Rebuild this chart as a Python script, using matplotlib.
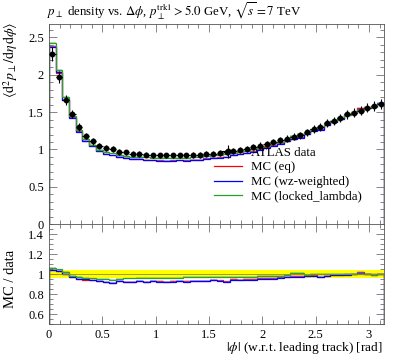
import numpy as np
import matplotlib
matplotlib.use("Agg")
import matplotlib.pyplot as plt
from matplotlib.ticker import MultipleLocator

plt.rcParams['font.family'] = ['Liberation Serif', 'DejaVu Serif']
plt.rcParams['mathtext.fontset'] = 'stix'

# 50 bins in |phi| from 0 to pi
n_bins = 50
edges = np.linspace(0, np.pi, n_bins + 1)

data_vals = [2.28, 1.97, 1.66, 1.47, 1.30, 1.18, 1.11, 1.05, 1.02, 1.01,
             0.97, 0.96, 0.945, 0.94, 0.93, 0.92, 0.92, 0.92, 0.92, 0.92,
             0.92, 0.925, 0.93, 0.94, 0.945, 0.955, 0.97, 0.98, 0.995, 1.01,
             1.03, 1.05, 1.07, 1.10, 1.12, 1.14, 1.17, 1.19, 1.23, 1.27,
             1.30, 1.35, 1.38, 1.42, 1.47, 1.49, 1.52, 1.56, 1.58, 1.61]
data_err = [0.09, 0.075, 0.065, 0.055, 0.05, 0.045, 0.044, 0.042, 0.04, 0.04,
            0.039, 0.039, 0.038, 0.038, 0.037, 0.037, 0.037, 0.037, 0.037, 0.037,
            0.037, 0.037, 0.038, 0.038, 0.038, 0.039, 0.04, 0.04, 0.041, 0.041,
            0.042, 0.043, 0.044, 0.045, 0.046, 0.047, 0.048, 0.049, 0.05, 0.052,
            0.053, 0.055, 0.056, 0.058, 0.06, 0.061, 0.062, 0.064, 0.065, 0.066]

ratio_eq = [1.045, 1.03, 1.0, 0.975, 0.955, 0.945, 0.94, 0.93, 0.918, 0.915,
            0.928, 0.925, 0.925, 0.93, 0.925, 0.93, 0.928, 0.925, 0.928, 0.93,
            0.928, 0.932, 0.93, 0.935, 0.942, 0.937, 0.926, 0.948, 0.945, 0.948,
            0.952, 0.958, 0.96, 0.965, 0.968, 0.975, 0.978, 0.98, 0.985, 0.99,
            0.975, 0.985, 0.99, 0.995, 1.0, 1.005, 1.02, 1.005, 1.0, 1.0]
ratio_wz = [1.04, 1.033, 1.005, 0.97, 0.95, 0.948, 0.937, 0.933, 0.922, 0.912,
            0.93, 0.922, 0.925, 0.928, 0.922, 0.928, 0.925, 0.922, 0.925, 0.928,
            0.925, 0.93, 0.928, 0.932, 0.94, 0.933, 0.922, 0.945, 0.94, 0.94,
            0.942, 0.95, 0.95, 0.955, 0.958, 0.972, 0.975, 0.973, 0.982, 0.985,
            0.972, 0.985, 0.99, 0.992, 0.995, 1.0, 1.01, 1.0, 0.995, 1.005]
ratio_ll = [1.064, 1.047, 1.023, 0.983, 0.973, 0.963, 0.956, 0.95, 0.95, 0.94,
            0.95, 0.956, 0.956, 0.96, 0.963, 0.963, 0.965, 0.963, 0.965, 0.965,
            0.968, 0.97, 0.972, 0.973, 0.973, 0.972, 0.97, 0.975, 0.973, 0.975,
            0.975, 0.978, 0.98, 0.985, 0.985, 0.99, 1.012, 1.015, 0.995, 0.998,
            1.0, 1.0, 1.0, 1.0, 0.998, 1.002, 1.005, 0.998, 0.995, 1.0]
mc_rel_err = 0.008

labels = ['MC (eq)', 'MC (wz-weighted)', 'MC (locked_lambda)']
colors = ['red', 'blue', '#2e9e2e']
band_colors = ['#ff9999', '#8080ff', '#66c266']

data = np.array(data_vals)
derr = np.array(data_err)
centers = 0.5 * (edges[1:] + edges[:-1])
half_w = 0.5 * (edges[1] - edges[0])

fig = plt.figure(figsize=(3.97, 3.58), dpi=100)
ax = fig.add_axes([0.1234, 0.374, 0.844, 0.559])
rax = fig.add_axes([0.1234, 0.095, 0.844, 0.279], sharex=ax)

handles = []
for r, c, bc, lab in zip([ratio_eq, ratio_wz, ratio_ll], colors, band_colors, labels):
    mc = data * np.array(r)
    ax.stairs(mc * (1 + mc_rel_err), edges, baseline=mc * (1 - mc_rel_err),
              fill=True, color=bc, alpha=0.45, lw=0)
    h = ax.stairs(mc, edges, color=c, lw=0.9, label=lab)
    handles.append(h)

eb = ax.errorbar(centers, data, xerr=half_w, yerr=derr, fmt='o', color='black',
                 ms=3.2, lw=0.8, capsize=0, label='ATLAS data', zorder=5)

# ratio panel
rel = derr / data
rax.stairs(1 + rel, edges, baseline=1 - rel, fill=True, color='#ffff00', lw=0)
rax.axhline(1.0, color='#8a8a30', lw=0.6)
for r, c, bc in zip([ratio_eq, ratio_wz, ratio_ll], colors, band_colors):
    r = np.array(r)
    rax.stairs(r * (1 + mc_rel_err), edges, baseline=r * (1 - mc_rel_err),
               fill=True, color=bc, alpha=0.45, lw=0)
    rax.stairs(r, edges, color=c, lw=0.9)

ax.set_xlim(0, np.pi)
ax.set_ylim(0, 2.68)
rax.set_ylim(0.5, 1.5)

for a in (ax, rax):
    a.tick_params(which='both', direction='in', top=True, right=True,
                  labelsize=9, width=0.5, color='#555555')
    a.tick_params(which='major', length=6)
    a.tick_params(which='minor', length=3)
    a.xaxis.set_major_locator(MultipleLocator(0.5))
    a.xaxis.set_minor_locator(MultipleLocator(0.1))
    for s in a.spines.values():
        s.set_linewidth(0.6)
        s.set_color('#555555')
ax.yaxis.set_major_locator(MultipleLocator(0.5))
ax.yaxis.set_minor_locator(MultipleLocator(0.1))
ax.yaxis.set_major_formatter(plt.FuncFormatter(lambda v, p: f'{v:g}'))
rax.yaxis.set_major_locator(MultipleLocator(0.2))
rax.yaxis.set_minor_locator(MultipleLocator(0.05))
rax.yaxis.set_major_formatter(plt.FuncFormatter(lambda v, p: f'{v:g}'))
rax.xaxis.set_major_formatter(plt.FuncFormatter(lambda v, p: f'{v:g}'))
plt.setp(ax.get_xticklabels(), visible=False)

fig.text(0.118, 0.97, r'$p_\perp$ density vs. $\Delta\phi$, $p_\perp^{\mathrm{trk1}} > 5.0$ GeV, $\sqrt{s} = 7$ TeV',
         ha='left', va='center', fontsize=9.3)
fig.text(0.027, 0.94, r'$\langle\mathrm{d}^2 p_\perp / \mathrm{d}\eta\,\mathrm{d}\phi\rangle$',
         rotation=90, ha='center', va='top', fontsize=10)
fig.text(0.027, 0.22, 'MC / data', rotation=90, ha='center', va='center', fontsize=10.5)
fig.text(0.965, 0.027, r'$|\phi|$ (w.r.t. leading track) [rad]', ha='right', va='center', fontsize=9.6)

ax.legend([eb] + handles, ['ATLAS data'] + labels, loc='upper left',
          bbox_to_anchor=(0.54, 0.59), bbox_transform=fig.transFigure,
          frameon=False, fontsize=9.3, labelspacing=0.2, handlelength=2.1,
          handletextpad=0.7, borderpad=0, borderaxespad=0)

fig.savefig('out.png', dpi=100)
